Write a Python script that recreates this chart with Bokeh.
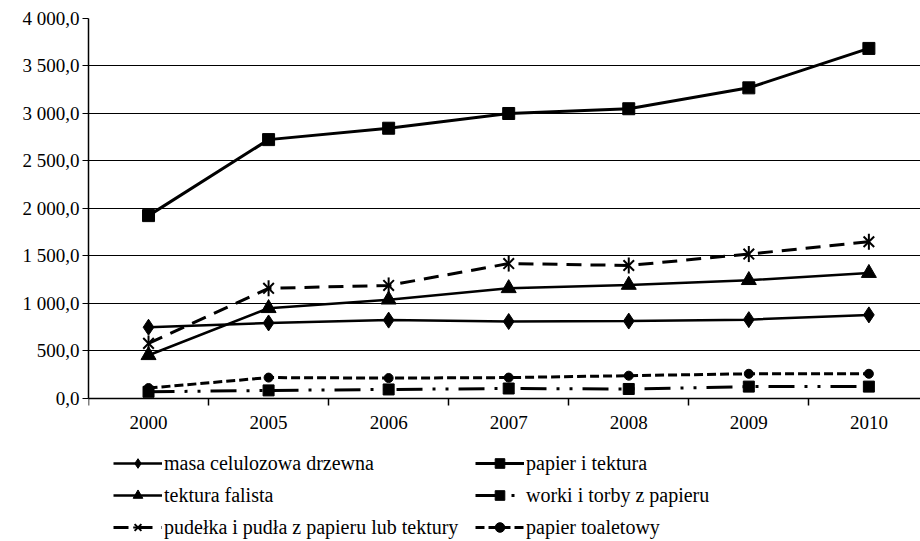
import numpy as np
from bokeh.plotting import figure
from bokeh.models import Range1d, FixedTicker, Legend, LegendItem
from bokeh.embed import file_html
from bokeh.resources import INLINE

years = ["2000", "2005", "2006", "2007", "2008", "2009", "2010"]
masa = [750, 795, 825, 810, 815, 830, 880]
papier = [1925, 2725, 2845, 3000, 3050, 3270, 3685]
falista = [455, 950, 1040, 1160, 1195, 1245, 1320]
worki = [70, 85, 95, 105, 100, 125, 125]
pudelka = [580, 1160, 1190, 1420, 1400, 1520, 1650]
toaletowy = [110, 220, 215, 220, 240, 260, 260]
y_ticks = [0, 500, 1000, 1500, 2000, 2500, 3000, 3500, 4000]
y_labels = ["0,0", "500,0", "1 000,0", "1 500,0", "2 000,0", "2 500,0", "3 000,0", "3 500,0", "4 000,0"]

FONT = "Liberation Serif"
x = list(range(len(years)))

# frame covers the legend area below the x axis; the x axis sits at y = 0
p = figure(width=920, height=540, output_backend="svg", toolbar_location=None,
           x_range=Range1d(-0.5, 6.43), y_range=Range1d(-1495, 4000),
           min_border_left=88, min_border_right=0, min_border_top=18, min_border_bottom=0)
p.outline_line_color = None
p.background_fill_color = "white"
p.border_fill_color = "white"

p.xgrid.grid_line_color = None
p.ygrid.grid_line_color = "black"
p.ygrid.grid_line_width = 1
p.ygrid.ticker = FixedTicker(ticks=y_ticks)

p.yaxis.ticker = FixedTicker(ticks=y_ticks)
p.yaxis.bounds = (0, 4000)
p.yaxis.major_label_overrides = {t: l for t, l in zip(y_ticks, y_labels)}
p.yaxis.axis_line_color = "black"
p.yaxis.axis_line_width = 1.5
p.yaxis.major_tick_out = 6
p.yaxis.major_tick_in = 0
p.yaxis.minor_tick_line_color = None
p.yaxis.major_label_text_font = FONT
p.yaxis.major_label_text_font_size = "19px"
p.yaxis.major_label_text_color = "black"
p.yaxis.major_label_standoff = 3

p.xaxis.fixed_location = 0
p.xaxis.ticker = FixedTicker(ticks=x, minor_ticks=[i - 0.5 for i in range(len(years) + 1)])
p.xaxis.major_label_overrides = {i: y for i, y in zip(x, years)}
p.xaxis.major_tick_line_color = None
p.xaxis.minor_tick_line_color = "black"
p.xaxis.minor_tick_line_width = 1.5
p.xaxis.minor_tick_out = 7
p.xaxis.minor_tick_in = 0
p.xaxis.axis_line_color = "black"
p.xaxis.axis_line_width = 1.5
p.xaxis.major_label_text_font = FONT
p.xaxis.major_label_text_font_size = "19px"
p.xaxis.major_label_text_color = "black"
p.xaxis.major_label_standoff = 11

lines = {}

r1 = p.line(x, masa, line_color="black", line_width=2.5)
m1 = p.scatter(x, masa, marker="diamond", size=16, fill_color="black", line_color="black")
lines["masa"] = LegendItem(label="masa celulozowa drzewna", renderers=[r1, m1])

r2 = p.line(x, papier, line_color="black", line_width=3)
m2 = p.scatter(x, papier, marker="square", size=12, fill_color="black", line_color="black")
lines["papier"] = LegendItem(label="papier i tektura", renderers=[r2, m2])

r3 = p.line(x, falista, line_color="black", line_width=2.5)
m3 = p.scatter(x, falista, marker="triangle", size=15, fill_color="black", line_color="black")
lines["falista"] = LegendItem(label="tektura falista", renderers=[r3, m3])

r4 = p.line(x, worki, line_color="black", line_width=3, line_dash="26 10 3 10 3 10")
m4 = p.scatter(x, worki, marker="square", size=11, fill_color="black", line_color="black")
lines["worki"] = LegendItem(label="worki i torby z papieru", renderers=[r4, m4])

r5 = p.line(x, pudelka, line_color="black", line_width=3, line_dash="15 9")
m5a = p.scatter(x, pudelka, marker="x", size=15, line_color="black", line_width=2)
m5b = p.scatter(x, pudelka, marker="dash", size=16, angle=np.pi / 2, line_color="black", line_width=2)
lines["pudelka"] = LegendItem(label="pudełka i pudła z papieru lub tektury", renderers=[r5, m5a, m5b])

r6 = p.line(x, toaletowy, line_color="black", line_width=3, line_dash="9 4")
m6 = p.scatter(x, toaletowy, marker="circle", size=9, fill_color="black", line_color="black")
lines["toaletowy"] = LegendItem(label="papier toaletowy", renderers=[r6, m6])

# column-major fill: first column, then second column
order = ["masa", "falista", "pudelka", "papier", "worki", "toaletowy"]
legend = Legend(items=[lines[k] for k in order], ncols=2, location=(25, 1))
legend.label_text_font = FONT
legend.label_text_font_size = "20px"
legend.label_text_color = "black"
legend.glyph_width = 49
legend.glyph_height = 24
legend.label_height = 24
legend.label_width = 303
legend.label_standoff = 2
legend.spacing = 8
legend.padding = 0
legend.margin = 0
legend.border_line_color = None
legend.background_fill_alpha = 0
p.add_layout(legend, "center")

open("out.html", "w").write(file_html(p, INLINE))
